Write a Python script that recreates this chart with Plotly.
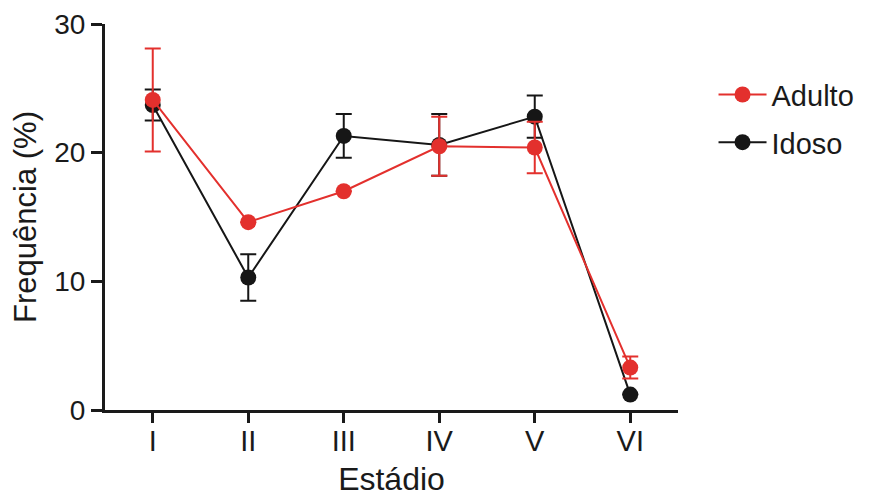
import plotly.graph_objects as go

estadios = ["I", "II", "III", "IV", "V", "VI"]
adulto = [24.1, 14.6, 17.0, 20.5, 20.4, 3.3]
adulto_err = [4.0, 0.0, 0.0, 2.3, 2.0, 0.85]
idoso = [23.7, 10.3, 21.3, 20.6, 22.8, 1.2]
idoso_err = [1.2, 1.8, 1.7, 2.4, 1.65, 0.0]

RED = "#E3302D"
BLACK = "#161616"
FONT = "Liberation Sans, Arial, sans-serif"

fig = go.Figure()
fig.add_trace(go.Scatter(
    x=estadios, y=idoso, name="Idoso", mode="lines+markers", legendgroup="b", legendrank=2,
    line=dict(color=BLACK, width=2), marker=dict(color=BLACK, size=16),
    error_y=dict(type="data", array=idoso_err, visible=True, color=BLACK, thickness=2, width=8),
))
fig.add_trace(go.Scatter(
    x=estadios, y=adulto, name="Adulto", mode="lines+markers", legendgroup="a", legendrank=1,
    line=dict(color=RED, width=2), marker=dict(color=RED, size=16),
    error_y=dict(type="data", array=adulto_err, visible=True, color=RED, thickness=2, width=8),
))

fig.update_layout(
    width=863, height=489,
    margin=dict(l=97, r=191, t=16, b=87),
    paper_bgcolor="white", plot_bgcolor="white",
    font=dict(family=FONT, size=28, color="#1a1a1a"),
    showlegend=True,
    legend=dict(x=1.062, y=0.883, xanchor="left", yanchor="top",
                traceorder="grouped", tracegroupgap=7, itemwidth=48,
                font=dict(size=29), bgcolor="rgba(0,0,0,0)"),
    xaxis=dict(
        type="category", range=[-0.5, 5.5], automargin=False,
        showline=True, linecolor="#1a1a1a", linewidth=3,
        ticks="outside", ticklen=10, tickwidth=3, tickcolor="#1a1a1a",
        showgrid=False, zeroline=False, ticklabelstandoff=-7,
        title=dict(text="Estádio", standoff=18, font=dict(size=32)),
        tickfont=dict(size=29),
    ),
    yaxis=dict(
        range=[0, 30], tickvals=[0, 10, 20, 30], automargin=False,
        showline=True, linecolor="#1a1a1a", linewidth=3,
        ticks="outside", ticklen=11, tickwidth=3, tickcolor="#1a1a1a",
        showgrid=False, zeroline=False,
        title=dict(text="Frequência (%)", standoff=11, font=dict(size=31)),
        tickfont=dict(size=28),
    ),
)

fig.write_html("out.html")
